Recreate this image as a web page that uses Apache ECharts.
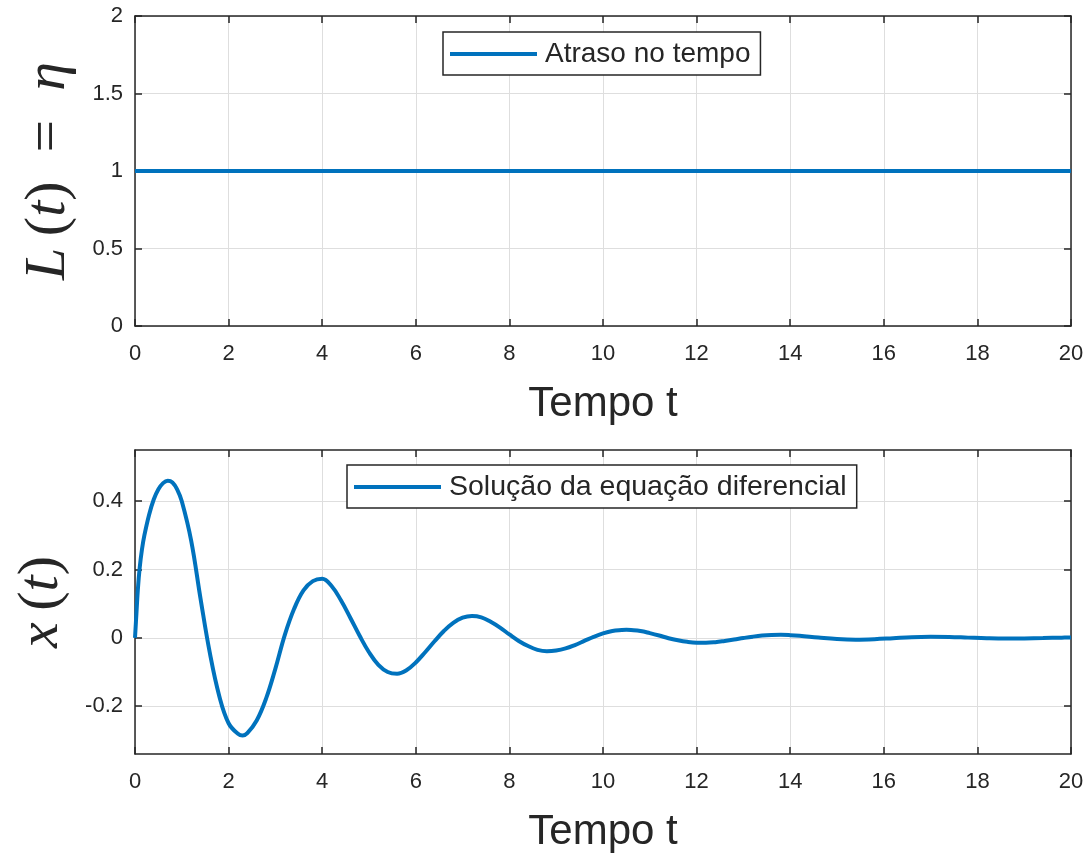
<!DOCTYPE html>
<html>
<head>
<meta charset="utf-8">
<script src="https://cdn.jsdelivr.net/npm/echarts@6/dist/echarts.min.js"></script>
<style>
html,body{margin:0;padding:0;background:#fff;}
#chart{width:1092px;height:854px;}
</style>
</head>
<body>
<div id="chart"></div>
<script>
// ---- data ----
const delayT = [0, 20];
const delayValues = [1, 1];

const solT = [0, 0.03, 0.06, 0.1, 0.15, 0.2, 0.3, 0.4, 0.5, 0.6, 0.7, 0.8, 0.9, 1.0, 1.2, 1.4, 1.6, 1.8, 2.0, 2.2, 2.3, 2.4, 2.6, 2.8, 3.0, 3.2, 3.4, 3.6, 3.8, 4.0, 4.2, 4.4, 4.6, 4.8, 5.0, 5.2, 5.4, 5.6, 5.8, 6.0, 6.2, 6.4, 6.6, 6.8, 7.0, 7.2, 7.4, 7.6, 7.8, 8.0, 8.2, 8.4, 8.6, 8.8, 9.0, 9.2, 9.4, 9.6, 9.8, 10.0, 10.2, 10.4, 10.5, 10.6, 10.8, 11.0, 11.2, 11.4, 11.6, 11.8, 12.0, 12.2, 12.4, 12.6, 12.8, 13.0, 13.2, 13.4, 13.6, 13.8, 14.0, 14.2, 14.6, 15.0, 15.4, 15.8, 16.2, 16.6, 17.0, 17.4, 17.8, 18.2, 18.6, 19.0, 19.4, 19.8, 20.0];
const solValues = [0, 0.07, 0.14, 0.205, 0.26, 0.30, 0.36, 0.405, 0.435, 0.453, 0.46, 0.455, 0.435, 0.40, 0.285, 0.115, -0.045, -0.17, -0.25, -0.281, -0.286, -0.279, -0.242, -0.178, -0.09, 0.008, 0.085, 0.139, 0.166, 0.173, 0.152, 0.110, 0.059, 0.006, -0.042, -0.079, -0.100, -0.105, -0.095, -0.072, -0.042, -0.010, 0.020, 0.044, 0.059, 0.064, 0.060, 0.047, 0.030, 0.010, -0.009, -0.024, -0.035, -0.039, -0.037, -0.031, -0.021, -0.009, 0.003, 0.013, 0.020, 0.0228, 0.0235, 0.0228, 0.020, 0.014, 0.007, -0.001, -0.007, -0.0115, -0.014, -0.0143, -0.0125, -0.009, -0.005, -0.0005, 0.0035, 0.0066, 0.0083, 0.0088, 0.0079, 0.0061, 0.001, -0.0035, -0.0053, -0.004, -0.001, 0.002, 0.0032, 0.0026, 0.0007, -0.0011, -0.002, -0.0016, -0.0006, 0.0006, 0.001];

const yTicksBottom = [-0.2, 0, 0.2, 0.4];
const legendTop = 'Atraso no tempo';
const legendBottom = 'Solução da equação diferencial';
const xName = 'Tempo t';

// ---- chart ----
const chart = echarts.init(document.getElementById('chart'), null, {renderer: 'canvas'});
const ink = '#262626';
const gridColor = '#dedede';
const lineColor = '#0072BD';
const sans = 'Liberation Sans, Arial, sans-serif';
const axisW = 1.5;

function xAxisMain(gridIndex) {
  return {
    type: 'value', gridIndex: gridIndex, position: 'bottom',
    min: 0, max: 20, interval: 2,
    axisLine: {show: true, onZero: false, lineStyle: {color: ink, width: axisW}},
    axisTick: {show: true, inside: true, length: 7, lineStyle: {color: ink, width: axisW}},
    axisLabel: {show: true, color: ink, fontSize: 22, fontFamily: sans, margin: 17},
    splitLine: {show: true, lineStyle: {color: gridColor, width: 1}},
    name: xName, nameLocation: 'middle', nameGap: 57,
    nameTextStyle: {color: ink, fontSize: 42, fontFamily: sans}
  };
}
function xAxisTop(gridIndex) {
  return {
    type: 'value', gridIndex: gridIndex, position: 'top',
    min: 0, max: 20, interval: 2,
    axisLine: {show: true, onZero: false, lineStyle: {color: ink, width: axisW}},
    axisTick: {show: true, inside: true, length: 7, lineStyle: {color: ink, width: axisW}},
    axisLabel: {show: false}, splitLine: {show: false}
  };
}
const nameRich = {
  i: {fontFamily: 'Liberation Serif, serif', fontStyle: 'italic', fontSize: 58, color: ink},
  n: {fontFamily: 'Liberation Serif, serif', fontSize: 58, color: ink}
};
function legendOpt(name, left, top, fs) {
  return {
    data: [name], left: left, top: top,
    orient: 'horizontal', backgroundColor: '#ffffff',
    borderColor: ink, borderWidth: 1.5, borderRadius: 0,
    padding: [6, 10, 5, 7], itemWidth: 87, itemHeight: 4, itemGap: 0,
    icon: 'rect',
    textStyle: {color: ink, fontSize: fs, fontFamily: sans, lineHeight: 32, padding: [0, 0, 0, 3]}
  };
}

const option = {
  animation: false,
  backgroundColor: '#ffffff',
  grid: [
    {left: 135, top: 16, width: 936, height: 310, containLabel: false},
    {left: 135, top: 450, width: 936, height: 306, containLabel: false}
  ],
  xAxis: [xAxisMain(0), xAxisTop(0), xAxisMain(1), xAxisTop(1)],
  yAxis: [
    {
      type: 'value', gridIndex: 0, position: 'left', min: 0, max: 2, interval: 0.5,
      axisLine: {show: true, onZero: false, lineStyle: {color: ink, width: axisW}},
      axisTick: {show: true, inside: true, length: 7, lineStyle: {color: ink, width: axisW}},
      axisLabel: {show: true, color: ink, fontSize: 22, fontFamily: sans, margin: 12},
      splitLine: {show: true, lineStyle: {color: gridColor, width: 1}},
      name: '{i|L}{n|\u2009(}{i|t}{n|)  =  }{i|η}', nameLocation: 'middle', nameGap: 57, nameRotate: 90,
      nameTextStyle: {rich: nameRich, fontSize: 58}
    },
    {
      type: 'value', gridIndex: 0, position: 'right', min: 0, max: 2, interval: 0.5,
      axisLine: {show: true, onZero: false, lineStyle: {color: ink, width: axisW}},
      axisTick: {show: true, inside: true, length: 7, lineStyle: {color: ink, width: axisW}},
      axisLabel: {show: false}, splitLine: {show: false}
    },
    {
      type: 'value', gridIndex: 1, position: 'left', min: -0.34, max: 0.55,
      axisLine: {show: true, onZero: false, lineStyle: {color: ink, width: axisW}},
      axisTick: {show: true, inside: true, length: 7, customValues: yTicksBottom, lineStyle: {color: ink, width: axisW}},
      axisLabel: {show: true, color: ink, fontSize: 22, fontFamily: sans, margin: 12, customValues: yTicksBottom,
        formatter: function (v) { return String(Math.round(v * 10) / 10); }},
      splitLine: {show: true, lineStyle: {color: gridColor, width: 1}},
      name: '{i|x}{n|\u2009(}{i|t}{n|)}', nameLocation: 'middle', nameGap: 64, nameRotate: 90,
      nameTextStyle: {rich: nameRich, fontSize: 58}
    },
    {
      type: 'value', gridIndex: 1, position: 'right', min: -0.34, max: 0.55,
      axisLine: {show: true, onZero: false, lineStyle: {color: ink, width: axisW}},
      axisTick: {show: true, inside: true, length: 7, customValues: yTicksBottom, lineStyle: {color: ink, width: axisW}},
      axisLabel: {show: false}, splitLine: {show: false}
    }
  ],
  legend: [legendOpt(legendTop, 443, 32, 28), legendOpt(legendBottom, 347, 465, 28.5)],
  series: [
    {
      name: legendTop, type: 'line', xAxisIndex: 0, yAxisIndex: 0,
      data: delayT.map(function (t, i) { return [t, delayValues[i]]; }),
      symbol: 'none', showSymbol: false,
      lineStyle: {color: lineColor, width: 4}, itemStyle: {color: lineColor}
    },
    {
      name: legendBottom, type: 'line', xAxisIndex: 2, yAxisIndex: 2,
      data: solT.map(function (t, i) { return [t, solValues[i]]; }),
      symbol: 'none', showSymbol: false, smooth: 0.4,
      lineStyle: {color: lineColor, width: 4}, itemStyle: {color: lineColor}
    }
  ]
};
chart.setOption(option);
</script>
</body>
</html>
